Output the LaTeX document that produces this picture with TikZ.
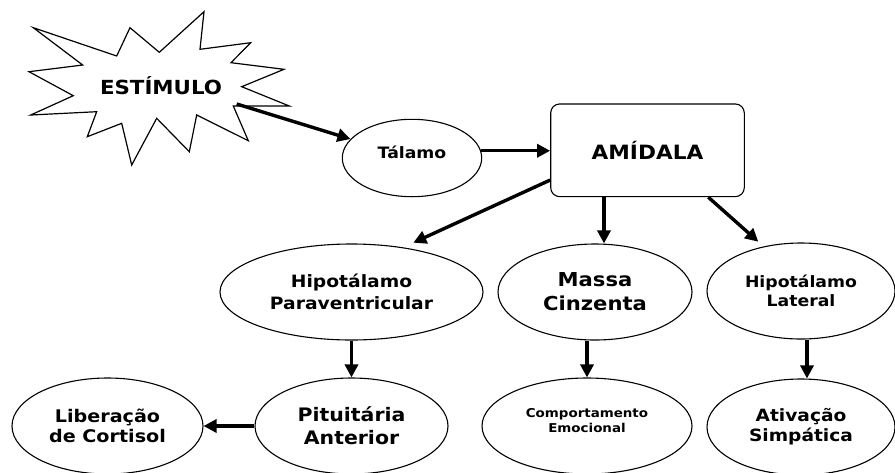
\documentclass[tikz,border=0pt]{standalone}
\usepackage{fontspec}
\setmainfont{DejaVu Sans}[FakeStretch=1.1]
\usetikzlibrary{shapes.geometric,arrows.meta}
\newcommand\myfs[2]{\fontsize{#1}{#2}\selectfont\bfseries}
\tikzset{
  ell/.style={draw, ellipse, line width=1.1pt, inner sep=0pt, align=center},
  arr/.style={line width=3.4pt, -{Triangle[length=13pt,width=13pt]}},
}
\begin{document}
\begin{tikzpicture}[x=1pt,y=-1pt]
\useasboundingbox (0,0) rectangle (895,472);
\clip (0,0) rectangle (895,472);
\fill[white] (0,0) rectangle (895,472);
% starburst
\draw[line width=1.2pt, line join=miter]
 (33.3,27.7) -- (116.7,56) -- (130,27.7) -- (159.3,52.3) -- (204,11.7) -- (200,49.3)
 -- (250.7,42.7) -- (231,62.7) -- (284,69.3) -- (241.7,86.7) -- (289.3,106) -- (233.3,106)
 -- (248.3,140.7) -- (196.7,115) -- (189.3,151.7) -- (156.7,118.3) -- (131.7,165)
 -- (121.7,123.3) -- (87.3,136.7) -- (96.7,111.7) -- (30.7,115) -- (73.3,95.7)
 -- (29,71.7) -- (82.7,65) -- cycle;
\node[font=\myfs{19.4}{24}, inner sep=0pt] (est) at (161,86) {ESTÍMULO};
\coordinate (estout) at (236.7,104);

\node[draw, ellipse, line width=1.1pt, inner sep=0pt, minimum width=139.4pt, minimum height=77.4pt,
      font=\myfs{15.7}{19}, text height=12pt, text depth=12pt] (tal) at (412,158) {Tálamo};
\node[draw, rounded corners=9pt, line width=1.1pt, minimum width=193.6pt, minimum height=92.7pt,
      inner sep=0pt, font=\myfs{19.7}{24}] (amid) at (647.5,150.3) {AMÍDALA};

\node[ell, minimum width=263pt, minimum height=96pt, font=\myfs{17}{22}] (hpv) at (351.5,292) {Hipotálamo\\Paraventricular};
\node[ell, minimum width=194pt, minimum height=96pt, font=\myfs{19.2}{24}] (mc) at (595,292) {Massa\\Cinzenta};
\node[ell, minimum width=188pt, minimum height=96pt, font=\myfs{15.7}{19}] (hl) at (801,291) {Hipotálamo\\Lateral};

\node[ell, minimum width=191pt, minimum height=96pt, font=\myfs{17.4}{20}] (lib) at (107.5,426) {Liberação\\de Cortisol};
\node[ell, minimum width=193pt, minimum height=96pt, font=\myfs{18.6}{23}] (pit) at (351.5,426) {Pituitária\\Anterior};
\node[ell, minimum width=210pt, minimum height=96pt, font=\myfs{12.2}{15}, text depth=12pt] (comp) at (587,426) {Comportamento\\Emocional};
\node[ell, minimum width=188pt, minimum height=96pt, font=\myfs{16.9}{20}] (ativ) at (801,427) {Ativação\\Simpática};

\coordinate (hpvin) at (413.3,242.7);
\coordinate (hlin) at (758.3,241.7);
\coordinate (m1) at ([xshift=-43.5pt]amid.south);
\coordinate (r1) at ([xshift=60.8pt]amid.south);
\coordinate (l1) at ([xshift=6pt]hl.south);

\draw[arr] (estout) -- (tal);
\draw[arr] (tal.6) -- (tal.6 -| amid.west);
\draw[arr] (amid.197) -- (hpvin);
\draw[arr] (m1) -- (m1 |- mc.north);
\draw[arr] (r1) -- (hlin);
\draw[arr] (hpv) -- (pit);
\draw[arr] (comp.north |- mc.south) -- (comp.north);
\draw[arr] (l1) -- (l1 |- ativ.north);
\draw[arr] (pit) -- (lib);
\end{tikzpicture}
\end{document}
